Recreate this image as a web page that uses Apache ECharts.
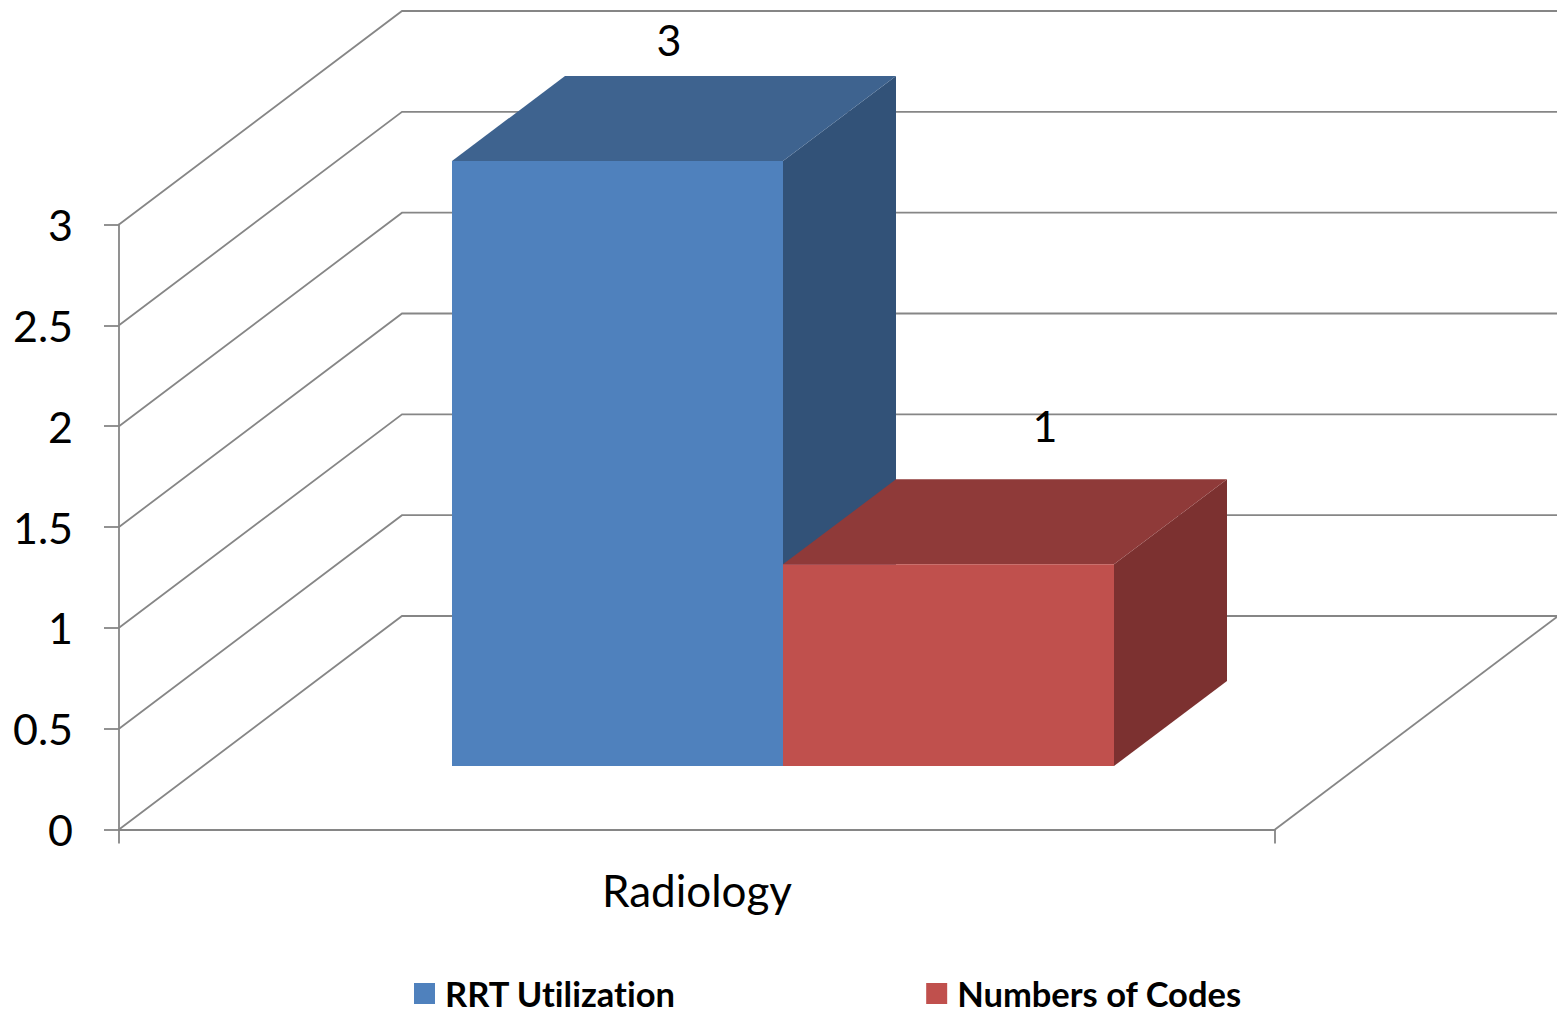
<!DOCTYPE html>
<html>
<head>
<meta charset="utf-8">
<title>RRT Utilization</title>
<script src="https://cdn.jsdelivr.net/npm/echarts@6/dist/echarts.min.js"></script>
<style>
  html, body { margin: 0; padding: 0; background: #fff; }
  #chart { width: 1557px; height: 1010px; }
  /* Lato joins "ti" otherwise */
  #chart text { font-variant-ligatures: none !important; }
</style>
</head>
<body>
<div id="chart"></div>
<script>
const categories = ['Radiology'];
const rrtUtilization = [3];
const numbersOfCodes = [1];
const yTicks = [0, 0.5, 1, 1.5, 2, 2.5, 3];

const FONT = 'Lato';
const GRID_COLOR = '#868686';
// pseudo 3d: how far the back wall / the bars are pushed up and right
const WALL_DEPTH = [283, -213.5];
const BAR_INSET = [86, -63.5];
const BAR_DEPTH = [113, -85];
const BAR_WIDTH = 331;

var myChart = echarts.init(document.getElementById('chart'), null, { renderer: 'svg' });

function wallItem(params, api) {
  const p = api.coord([0, api.value(1)]);
  const size = api.size([1, 0]);
  const x0 = p[0] - size[0] / 2;
  const children = [{
    type: 'polyline',
    shape: { points: [
      [x0, p[1]],
      [x0 + WALL_DEPTH[0], p[1] + WALL_DEPTH[1]],
      [x0 + size[0] + WALL_DEPTH[0], p[1] + WALL_DEPTH[1]]
    ] },
    style: { fill: 'none', stroke: GRID_COLOR, lineWidth: 1.8 }
  }];
  // floor: right edge back down to the end of the category axis
  if (api.value(1) === 0) {
    children.push({
      type: 'line',
      shape: {
        x1: x0 + size[0], y1: p[1],
        x2: x0 + size[0] + WALL_DEPTH[0], y2: p[1] + WALL_DEPTH[1]
      },
      style: { stroke: GRID_COLOR, lineWidth: 1.8 }
    });
  }
  return { type: 'group', children: children };
}

// side: -1 draws left of the category centre, 0 right of it
function boxItem(side, colors, labelOffset) {
  return function (params, api) {
    const top = api.coord([api.value(0), api.value(1)]);
    const base = api.coord([api.value(0), 0]);
    const xl = top[0] + BAR_INSET[0] + side * BAR_WIDTH;
    const xr = xl + BAR_WIDTH;
    const yt = top[1] + BAR_INSET[1];
    const yb = base[1] + BAR_INSET[1];
    const dx = BAR_DEPTH[0];
    const dy = BAR_DEPTH[1];
    return {
      type: 'group',
      children: [
        {
          type: 'polygon',
          shape: { points: [[xr, yt], [xr + dx, yt + dy], [xr + dx, yb + dy], [xr, yb]] },
          style: { fill: colors.side }
        },
        {
          type: 'polygon',
          shape: { points: [[xl, yt], [xl + dx, yt + dy], [xr + dx, yt + dy], [xr, yt]] },
          style: { fill: colors.top }
        },
        {
          type: 'rect',
          shape: { x: xl, y: yt, width: BAR_WIDTH, height: yb - yt },
          style: { fill: colors.front }
        },
        {
          type: 'text',
          x: xr + labelOffset[0],
          y: yt + labelOffset[1],
          style: {
            text: String(api.value(1)),
            font: '43px ' + FONT,
            fill: '#000',
            align: 'center',
            verticalAlign: 'middle'
          }
        }
      ]
    };
  };
}

const option = {
  animation: false,
  backgroundColor: '#fff',
  grid: { left: 119, right: 282, top: 224.5, bottom: 180.5 },
  legend: {
    left: 409,
    top: 971,
    icon: 'rect',
    itemWidth: 21,
    itemHeight: 21,
    itemGap: 249,
    data: ['RRT Utilization', 'Numbers of Codes'],
    textStyle: { fontFamily: FONT, fontWeight: 'bold', fontSize: 34.5, lineHeight: 32, color: '#000', padding: [0, 0, 0, 5] }
  },
  xAxis: {
    type: 'category',
    data: categories,
    axisLine: { lineStyle: { color: GRID_COLOR, width: 1.8 } },
    axisTick: { show: true, length: 14, lineStyle: { color: GRID_COLOR, width: 1.8 } },
    axisLabel: { fontFamily: FONT, fontSize: 44, color: '#000', margin: 38 }
  },
  yAxis: {
    type: 'value',
    min: 0,
    max: 3,
    interval: 0.5,
    axisLine: { show: true, lineStyle: { color: GRID_COLOR, width: 1.8 } },
    axisTick: { show: true, length: 15, lineStyle: { color: GRID_COLOR, width: 1.8 } },
    axisLabel: { fontFamily: FONT, fontSize: 43, color: '#000', margin: 46, padding: [8, 0, 0, 0] },
    splitLine: { show: false }
  },
  series: [
    {
      name: 'walls',
      type: 'custom',
      z: 1,
      silent: true,
      renderItem: wallItem,
      encode: { x: 0, y: 1 },
      data: yTicks.map(v => [0, v])
    },
    {
      name: 'RRT Utilization',
      type: 'custom',
      z: 2,
      itemStyle: { color: '#4F81BD' },
      renderItem: boxItem(-1, { front: '#4F81BD', top: '#3E638F', side: '#325278' }, [-114, -122]),
      encode: { x: 0, y: 1 },
      data: rrtUtilization.map((v, i) => [i, v])
    },
    {
      name: 'Numbers of Codes',
      type: 'custom',
      z: 3,
      itemStyle: { color: '#C0504D' },
      renderItem: boxItem(0, { front: '#C0504D', top: '#8F3A39', side: '#7C3130' }, [-69, -139]),
      encode: { x: 0, y: 1 },
      data: numbersOfCodes.map((v, i) => [i, v])
    }
  ]
};

myChart.setOption(option);
</script>
</body>
</html>
